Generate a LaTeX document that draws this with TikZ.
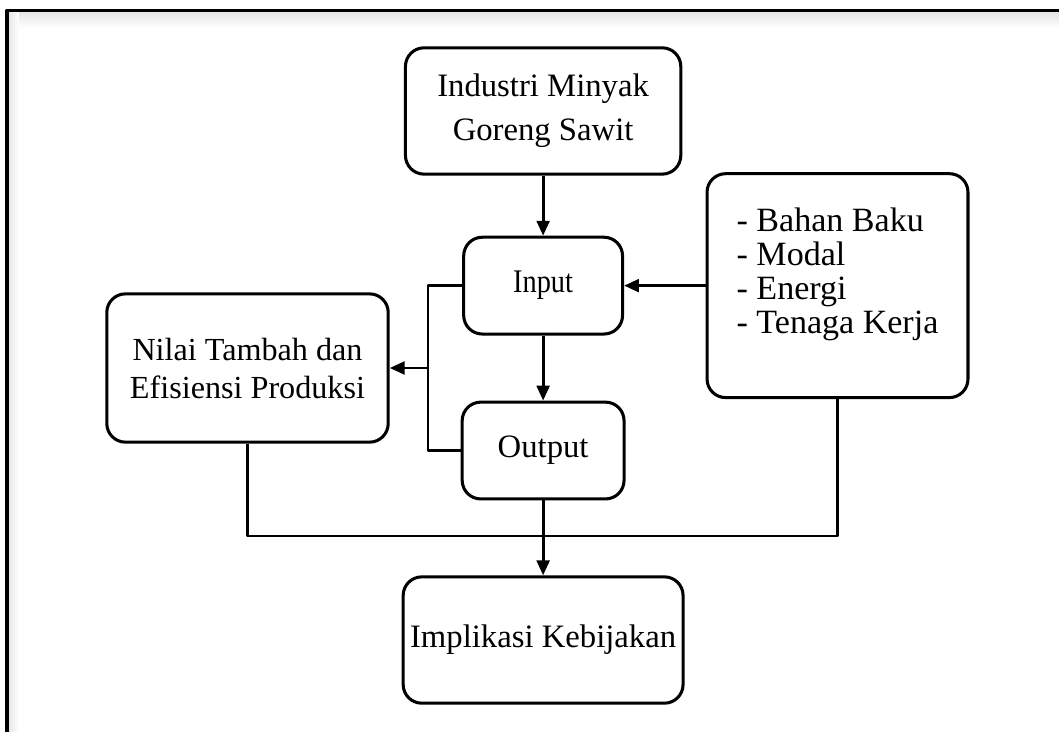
\documentclass[tikz,border=0pt]{standalone}
\usepackage{fontspec}
\setmainfont{Liberation Serif}
\usetikzlibrary{arrows.meta,positioning,calc}
\definecolor{ink}{HTML}{000000}
\definecolor{shd}{HTML}{E2E2E2}
\tikzset{
  >={Triangle[length=5.6pt,width=4.8pt]},
  every picture/.style={line join=round},
  box/.style={draw=ink, rounded corners=7pt, align=center, inner sep=2pt,
    line width=1.15pt, text=ink, font=\fontsize{12.3}{16.5}\selectfont},
  lbl/.style={text=ink, align=left, font=\fontsize{12.8}{12.8}\selectfont},
  arr/.style={->, draw=ink, line width=1.1pt},
  wire/.style={draw=ink, line width=1.1pt},
}
\begin{document}
\begin{tikzpicture}
  \useasboundingbox (0,0) rectangle (14,-9.664);
  % frame
  \shade[top color=shd, bottom color=white] (0.09,-0.14) rectangle (14,-0.37);
  \shade[left color=shd, right color=white] (0.09,-0.14) rectangle (0.25,-9.664);
  \draw[ink, line width=1.3pt] (0.093,-9.8) -- (0.093,-0.139) -- (14.1,-0.139);
  % boxes
  \node[box, minimum width=3.64cm, minimum height=1.67cm] (ind) at (7.18,-1.467) {Industri Minyak\\ Goreng Sawit};
  \node[box, minimum width=2.1cm, minimum height=1.28cm,
    font=\fontsize{12.4}{14}\selectfont\addfontfeature{FakeStretch=0.86}] (inp) at (7.18,-3.776) {Input};
  \node[box, minimum width=2.14cm, minimum height=1.28cm] (out) at (7.18,-5.956) {Output};
  \node[box, minimum width=3.72cm, minimum height=1.96cm, font=\fontsize{12.1}{14.3}\selectfont] (nil) at (3.272,-4.865) {Nilai Tambah dan\\ Efisiensi Produksi};
  \node[box, minimum width=3.45cm, minimum height=2.96cm] (bhn) at (11.072,-3.776) {};
  \node[lbl] (bhnt) at ($(bhn)+(0,0.15)$) {- Bahan Baku\\ - Modal\\ - Energi\\ - Tenaga Kerja};
  \node[box, minimum width=3.7cm, minimum height=1.67cm] (imp) at (7.18,-8.461) {Implikasi Kebijakan};
  % connectors
  \draw[arr] (ind) -- (inp);
  \draw[arr] (inp) -- (out);
  \draw[arr] (bhn) -- (inp);
  \coordinate (br) at (5.658,-4.865);
  \draw[wire] (inp.west) -| (br) |- (out.west);
  \draw[arr] (br) -- (nil);
  \coordinate (bus) at (7.18,-7.086);
  \draw[wire] (nil.south) |- (bus) -| (bhn.south);
  \draw[arr] (out) -- (imp);
\end{tikzpicture}
\end{document}
